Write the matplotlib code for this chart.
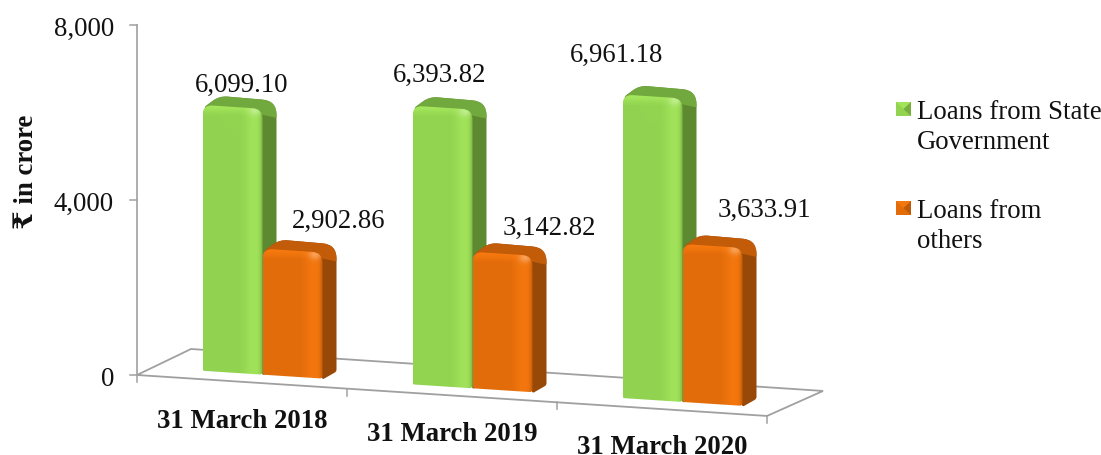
import numpy as np
import matplotlib
matplotlib.use('Agg')
import matplotlib.pyplot as plt
from matplotlib.path import Path
from matplotlib.patches import PathPatch, Polygon, Rectangle

dates = ['31 March 2018', '31 March 2019', '31 March 2020']
state_loans = [6099.10, 6393.82, 6961.18]
other_loans = [2902.86, 3142.82, 3633.91]
y_ticks = [0, 4000, 8000]
legend_labels = ['Loans from State\nGovernment', 'Loans from\nothers']

# colours: main, highlight, side face, top face
GREEN = ('#92d350', '#a8ea5e', '#5d8a31', '#72a93e')
ORANGE = ('#e36c0a', '#fb7c10', '#984807', '#c25c08')
AXIS = '#a0a0a0'
INK = '#111111'

plt.rcParams['font.family'] = ['Liberation Serif', 'DejaVu Serif', 'DejaVu Sans']
FS = 19.3

fig = plt.figure(figsize=(11.01, 4.56), dpi=100)
ax = fig.add_axes([0, 0, 1, 1])

# the axes run in screen units, the value scale and floor tilt sit on top
Y0 = 376
PX_PER_UNIT = 350 / 8000
SLOPE = 0.065
X_LEFT = 137


def floor_y(x):
    return Y0 + SLOPE * (x - X_LEFT)


def val_y(v):
    return Y0 - v * PX_PER_UNIT


def rounded(pts, radii):
    # closed path through pts with each corner cut by a quadratic curve
    verts, codes = [], []
    n = len(pts)
    for i in range(n):
        p = np.array(pts[i], float)
        a = np.array(pts[i - 1], float)
        b = np.array(pts[(i + 1) % n], float)
        r = radii[i]
        p1 = p + (a - p) / np.linalg.norm(a - p) * r
        p2 = p + (b - p) / np.linalg.norm(b - p) * r
        verts += [p1, p, p2]
        codes += [Path.MOVETO if i == 0 else Path.LINETO, Path.CURVE3, Path.CURVE3]
    verts.append(verts[0])
    codes.append(Path.CLOSEPOLY)
    return Path(verts, codes)


def rgb(c):
    return np.array(matplotlib.colors.to_rgb(c))


def front_shading(colors, w, h):
    main, hi = rgb(colors[0]), rgb(colors[1])
    tx = np.linspace(0, 1, w)
    ty = np.arange(h)
    # narrow vertical sheen close to the right edge
    sheen = np.clip((tx - 0.62) / 0.2, 0, 1) * np.clip((0.98 - tx) / 0.08, 0, 1)
    img = main + sheen[None, :, None] * (hi - main) * 0.65 * np.ones((h, w, 3))
    # rounded bevel along the top, with a soft spot near the right corner
    bevel = np.clip(1 - ty / 10.0, 0, 1)
    img = img + bevel[:, None, None] * (hi - img) * 0.95
    xx, yy = np.meshgrid(np.arange(w), ty)
    spot = np.exp(-(((xx - w * 0.86) / 6.0) ** 2 + ((yy - 5) / 5.0) ** 2))
    img = img + spot[:, :, None] * (1 - img) * 0.3
    # dim the seam on the right edge
    edge = np.clip((tx - 0.95) / 0.05, 0, 1)
    img = img * (1 - 0.12 * edge[None, :, None])
    return np.clip(img, 0, 1)


def draw_bar(x0, value, colors, w=60, depth=14):
    x1 = x0 + w
    yb = floor_y(x0) - 8.5
    yt = yb - value * PX_PER_UNIT + 1
    drop = SLOPE * w

    # side and top faces behind the front
    back = [(x0 + 2, yt + 2), (x0 + 17, yt - 9), (x1 + depth, yt - 8 + drop),
            (x1 + depth, yb + drop - 7), (x1, yb + drop + 1)]
    ax.add_patch(PathPatch(rounded(back, [2, 8, 14, 2, 2]), fc=colors[2], ec='none', zorder=3))
    top = [(x0 + 2, yt + 2), (x0 + 17, yt - 9), (x1 + depth, yt - 8 + drop),
           (x1 + depth, yt + 9 + drop), (x1, yt + 6 + drop)]
    ax.add_patch(PathPatch(rounded(top, [2, 8, 14, 1, 1]), fc=colors[3], ec='none', zorder=3.1))

    # front face with shading, clipped to a rounded outline
    outline = rounded([(x0, yt), (x1, yt + drop), (x1, yb + drop), (x0, yb)], [10, 10, 3, 2])
    patch = PathPatch(outline, fc='none', ec='none', zorder=3.2)
    ax.add_patch(patch)
    h = int(yb + drop - yt) + 2
    im = ax.imshow(front_shading(colors, w, h), extent=(x0, x1, yt + h, yt), aspect='auto',
                   zorder=3.2, interpolation='bilinear')
    im.set_clip_path(patch)


# y axis
ax.plot([X_LEFT, X_LEFT], [val_y(8000), Y0], color=AXIS, lw=1.2, zorder=1)
for t in y_ticks:
    ax.plot([X_LEFT - 7, X_LEFT], [val_y(t), val_y(t)], color=AXIS, lw=1.1, zorder=1)
    ax.text(114, val_y(t) + 10, f'{t:,}', ha='right', va='baseline', fontsize=FS, color=INK)

# floor
x_right = 767
ax.plot([X_LEFT, x_right, 823, 191, X_LEFT],
        [Y0, floor_y(x_right), floor_y(x_right) - 25, Y0 - 26, Y0],
        color=AXIS, lw=1.3, zorder=1, solid_joinstyle='miter')
for x in np.linspace(X_LEFT, x_right, len(dates) + 1):
    ax.plot([x, x], [floor_y(x), floor_y(x) + 7], color=AXIS, lw=1.1, zorder=1)

# bars
green_x = [202.5, 412.5, 622.5]
for i in range(len(dates)):
    draw_bar(green_x[i], state_loans[i], GREEN)
    draw_bar(green_x[i] + 60, other_loans[i], ORANGE)

# value labels
state_label_xy = [(242, 92), (440, 82), (617, 62)]
other_label_xy = [(339, 228), (549, 235), (764, 217)]
for vals, xy in ((state_loans, state_label_xy), (other_loans, other_label_xy)):
    for v, (x, y) in zip(vals, xy):
        ax.text(x, y, f'{v:,.2f}', ha='center', va='baseline', fontsize=FS, color=INK)

# category labels
cat_xy = [(242, 428), (452, 441), (662, 454)]
for d, (x, y) in zip(dates, cat_xy):
    ax.text(x, y, d, ha='center', va='baseline', fontsize=FS, fontweight='bold', color=INK)

ax.text(33, 172, '₹ in crore', rotation=90, rotation_mode='anchor', ha='center', va='baseline',
        fontsize=FS, fontweight='bold', color=INK)

# legend
for label, colors, y, base in zip(legend_labels, (GREEN, ORANGE), (103, 202), (149, 248)):
    ax.add_patch(Rectangle((896, y), 15, 14, fc=colors[0], ec='none', zorder=3))
    ax.add_patch(Polygon([(896, y), (911, y), (903.5, y + 7)], fc=colors[1], alpha=0.7, ec='none', zorder=3.1))
    ax.add_patch(Polygon([(911, y), (911, y + 14), (903.5, y + 7)], fc=colors[2], alpha=0.5, ec='none', zorder=3.1))
    ax.text(917, base, label, ha='left', va='baseline', fontsize=FS, color=INK, linespacing=1.27)

ax.set_xlim(0, 1101)
ax.set_ylim(456, 0)
ax.axis('off')
fig.savefig('out.png', dpi=100)
